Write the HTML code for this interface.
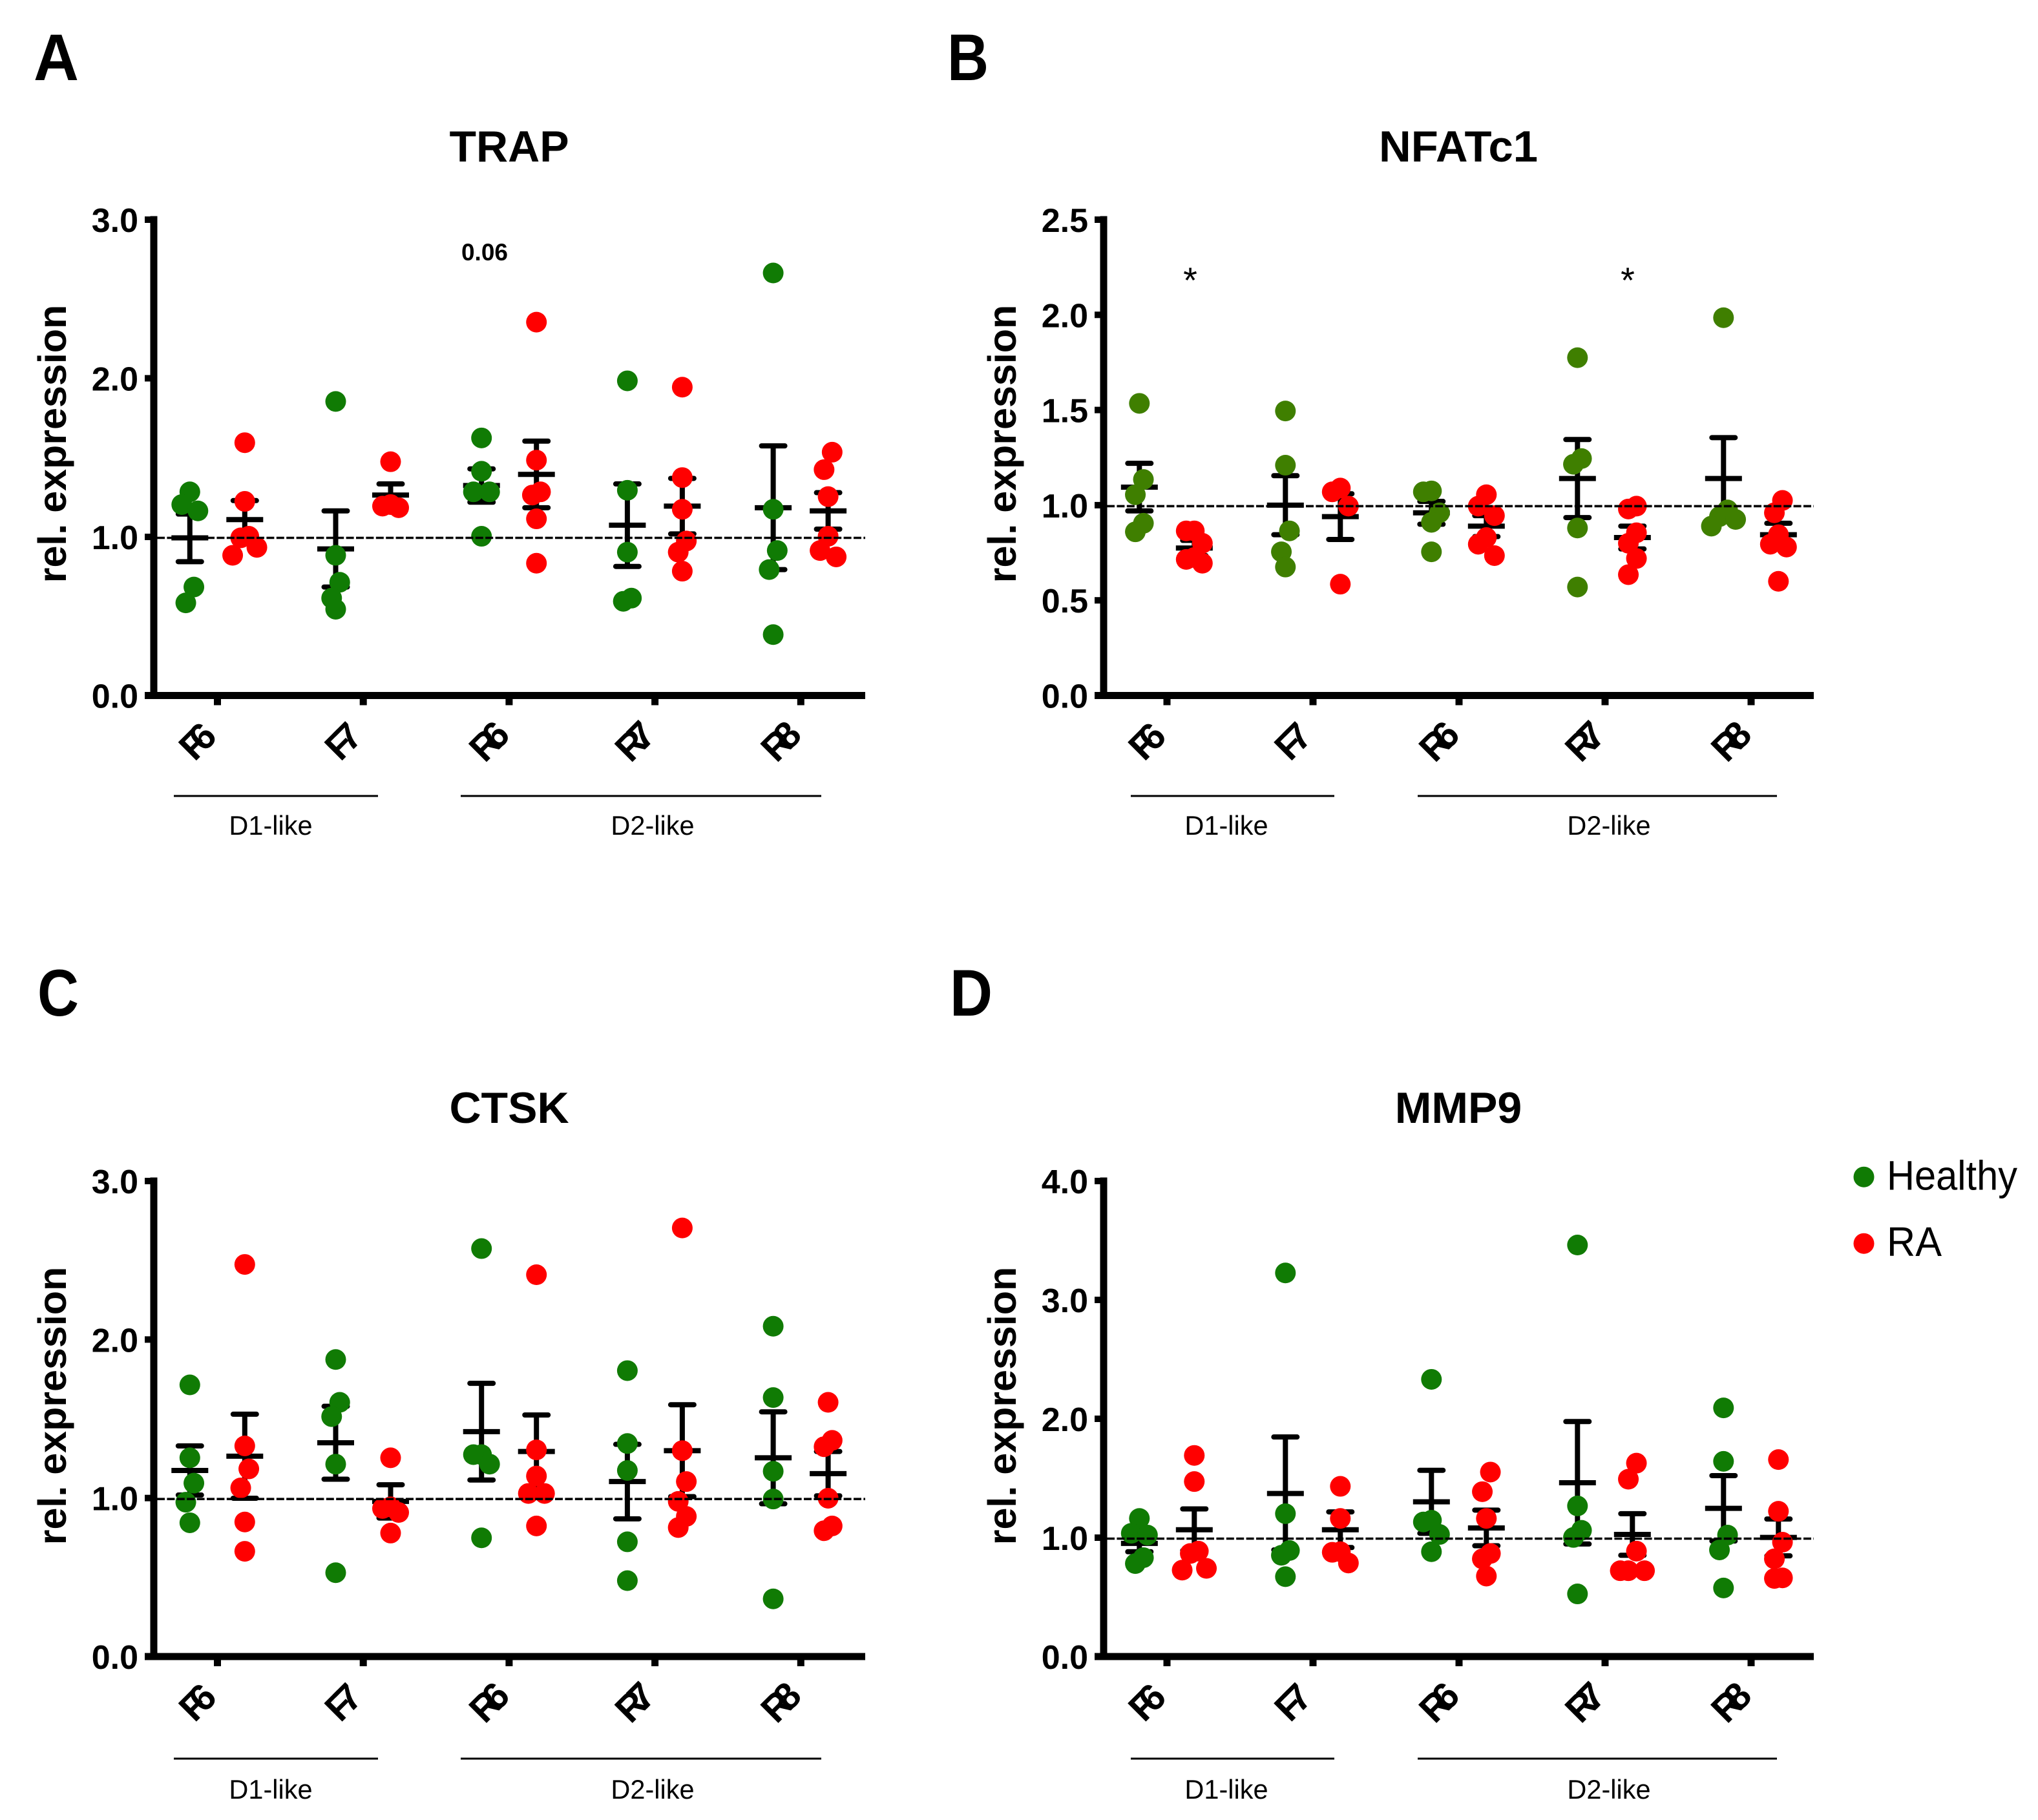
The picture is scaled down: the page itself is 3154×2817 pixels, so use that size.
<!DOCTYPE html>
<html lang="en">
<head>
<meta charset="utf-8">
<title>Relative expression of TRAP, NFATc1, CTSK and MMP9</title>
<style>
html,body{margin:0;padding:0;background:#fff}
svg{display:block}
text{font-family:"Liberation Sans",Arial,sans-serif;fill:#000}
.letter{font-size:102px;font-weight:700}
.title{font-size:68px;font-weight:700;text-anchor:middle}
.legend{font-size:64px}
</style>
</head>
<body>
<svg id="figure" xmlns="http://www.w3.org/2000/svg" width="3154" height="2817" viewBox="0 0 3154 2817">
  <rect width="3154" height="2817" fill="#fff"/>
  <text class="letter" x="52" y="124" textLength="70" lengthAdjust="spacingAndGlyphs">A</text>
  <text class="letter" x="1466" y="124" textLength="64" lengthAdjust="spacingAndGlyphs">B</text>
  <text class="letter" x="58" y="1572" textLength="64" lengthAdjust="spacingAndGlyphs">C</text>
  <text class="letter" x="1470" y="1572" textLength="66" lengthAdjust="spacingAndGlyphs">D</text>
  <text class="title" x="788" y="250">TRAP</text>
  <text class="title" x="2257" y="250" textLength="246" lengthAdjust="spacingAndGlyphs">NFATc1</text>
  <text class="title" x="788" y="1738">CTSK</text>
  <text class="title" x="2257" y="1738">MMP9</text>
  <g id="panels"></g>
  <text x="750" y="403" font-size="37" font-weight="700" text-anchor="middle">0.06</text>
  <text x="1842" y="453" font-size="56" text-anchor="middle">*</text>
  <text x="2519" y="453" font-size="56" text-anchor="middle">*</text>
  <g>
    <circle cx="2884.5" cy="1821.7" r="16" fill="#107b04"/>
    <text class="legend" x="2920" y="1841.7" textLength="202" lengthAdjust="spacingAndGlyphs">Healthy</text>
    <circle cx="2884.5" cy="1924.7" r="16" fill="#ff0000"/>
    <text class="legend" x="2920" y="1944" textLength="85" lengthAdjust="spacingAndGlyphs">RA</text>
  </g>
</svg>
<script>
// ---- shared categories ----
const categories = ['F6', 'F7', 'R6', 'R7', 'R8'];
const referenceLevel = 1;

// ---- TRAP ----
const trapTicks = ['0.0', '1.0', '2.0', '3.0'];
const trapHealthyValues = [
  [1.29, 1.21, 1.17, 0.69, 0.59],
  [1.86, 0.89, 0.72, 0.62, 0.55],
  [1.63, 1.42, 1.29, 1.29, 1.01],
  [1.99, 1.30, 0.91, 0.62, 0.60],
  [2.67, 1.18, 0.92, 0.80, 0.39]
];
const trapRaValues = [
  [1.60, 1.23, 1.01, 1.00, 0.94, 0.89],
  [1.48, 1.21, 1.20, 1.19],
  [2.36, 1.49, 1.29, 1.27, 1.12, 0.84],
  [1.95, 1.38, 1.18, 0.98, 0.91, 0.79],
  [1.54, 1.43, 1.26, 1.01, 0.92, 0.88]
];
const trapHealthyMeans = [1.00, 0.93, 1.33, 1.08, 1.19];
const trapHealthySems = [0.15, 0.24, 0.105, 0.26, 0.39];
const trapRaMeans = [1.115, 1.27, 1.40, 1.20, 1.17];
const trapRaSems = [0.12, 0.07, 0.21, 0.175, 0.115];

// ---- NFATc1 ----
const nfatTicks = ['0.0', '0.5', '1.0', '1.5', '2.0', '2.5'];
const nfatHealthyValues = [
  [1.54, 1.14, 1.06, 0.91, 0.865],
  [1.50, 1.215, 0.87, 0.76, 0.68],
  [1.08, 1.075, 0.965, 0.915, 0.76],
  [1.78, 1.25, 1.22, 0.885, 0.575],
  [1.99, 0.98, 0.945, 0.93, 0.895]
];
const nfatRaValues = [
  [0.87, 0.87, 0.805, 0.73, 0.72, 0.70],
  [1.095, 1.075, 1.00, 0.59],
  [1.06, 1.00, 0.95, 0.835, 0.80, 0.74],
  [1.00, 0.985, 0.86, 0.805, 0.725, 0.64],
  [1.03, 0.965, 0.85, 0.80, 0.785, 0.605]
];
const nfatHealthyMeans = [1.10, 1.005, 0.965, 1.145, 1.145];
const nfatHealthySems = [0.125, 0.155, 0.06, 0.205, 0.215];
const nfatRaMeans = [0.78, 0.945, 0.895, 0.835, 0.85];
const nfatRaSems = [0.04, 0.12, 0.055, 0.06, 0.06];

// ---- CTSK ----
const ctskTicks = ['0.0', '1.0', '2.0', '3.0'];
const ctskHealthyValues = [
  [1.72, 1.26, 1.10, 0.98, 0.85],
  [1.88, 1.61, 1.52, 1.22, 0.535],
  [2.58, 1.28, 1.28, 1.22, 0.755],
  [1.81, 1.35, 1.18, 0.73, 0.485],
  [2.09, 1.64, 1.175, 1.00, 0.37]
];
const ctskRaValues = [
  [2.48, 1.335, 1.19, 1.07, 0.855, 0.67],
  [1.26, 0.95, 0.94, 0.915, 0.785],
  [2.415, 1.31, 1.145, 1.035, 1.035, 0.83],
  [2.71, 1.305, 1.11, 0.985, 0.89, 0.82],
  [1.61, 1.37, 1.33, 1.005, 0.83, 0.80]
];
const ctskHealthyMeans = [1.18, 1.355, 1.425, 1.11, 1.26];
const ctskHealthySems = [0.155, 0.23, 0.305, 0.235, 0.29];
const ctskRaMeans = [1.27, 0.985, 1.30, 1.305, 1.16];
const ctskRaSems = [0.265, 0.105, 0.23, 0.29, 0.14];

// ---- MMP9 ----
const mmpTicks = ['0.0', '1.0', '2.0', '3.0', '4.0'];
const mmpHealthyValues = [
  [1.17, 1.045, 1.03, 0.84, 0.79],
  [3.235, 1.21, 0.90, 0.86, 0.68],
  [2.34, 1.155, 1.14, 1.035, 0.89],
  [3.47, 1.275, 1.07, 1.01, 0.535],
  [2.10, 1.65, 1.03, 0.905, 0.585]
];
const mmpRaValues = [
  [1.70, 1.48, 0.895, 0.875, 0.75, 0.735],
  [1.44, 1.17, 0.89, 0.885, 0.795],
  [1.56, 1.395, 1.17, 0.875, 0.83, 0.685],
  [1.635, 1.50, 0.895, 0.73, 0.73, 0.73],
  [1.665, 1.23, 0.97, 0.83, 0.67, 0.665]
];
const mmpHealthyMeans = [0.96, 1.38, 1.31, 1.47, 1.255];
const mmpHealthySems = [0.07, 0.475, 0.265, 0.515, 0.275];
const mmpRaMeans = [1.075, 1.075, 1.09, 1.035, 1.01];
const mmpRaSems = [0.175, 0.15, 0.15, 0.175, 0.155];

const SVG_NS = 'http://www.w3.org/2000/svg';
const panelsRoot = document.getElementById('panels');

function make(parent, tag, attrs) {
  const node = document.createElementNS(SVG_NS, tag);
  for (const key in attrs) node.setAttribute(key, attrs[key]);
  parent.appendChild(node);
  return node;
}

// Prism-style swarm: neighbouring values share a bin and spread around the group centre.
function swarmOffsets(values, yScale) {
  const slot = 12.5, reach = 34;
  const order = values.map((v, i) => i).sort((a, b) => values[b] - values[a]);
  const offsets = new Array(values.length).fill(0);
  let bin = [];
  const flush = () => {
    const n = bin.length;
    bin.forEach((idx, k) => {
      let s;
      if (n % 2) s = k === 0 ? 0 : (k % 2 ? -1 : 1) * Math.ceil(k / 2);
      else s = (k % 2 ? -1 : 1) * (Math.floor(k / 2) + 0.5);
      offsets[idx] = s * slot;
    });
    bin = [];
  };
  order.forEach(idx => {
    if (bin.length && yScale(values[idx]) - yScale(values[bin[0]]) > reach) flush();
    bin.push(idx);
  });
  flush();
  return offsets;
}

function drawSeries(g, seriesName, centerOf, yScale, values, means, sems, colour) {
  const meanHalf = 28.5, capHalf = 18;
  categories.forEach((cat, i) => {
    const cx = centerOf(i);
    const hi = yScale(means[i] + sems[i]);
    const lo = yScale(means[i] - sems[i]);
    const my = yScale(means[i]);

    const stem = make(g, 'line', {x1: cx, x2: cx, y1: hi, y2: lo, stroke: '#000', 'stroke-width': 8});
    
    

    const capTop = make(g, 'line', {x1: cx - capHalf, x2: cx + capHalf, y1: hi, y2: hi, stroke: '#000', 'stroke-width': 8, 'stroke-linecap': 'round'});
    
    

    const capLow = make(g, 'line', {x1: cx - capHalf, x2: cx + capHalf, y1: lo, y2: lo, stroke: '#000', 'stroke-width': 8, 'stroke-linecap': 'round'});
    
    

    const meanLine = make(g, 'line', {x1: cx - meanHalf, x2: cx + meanHalf, y1: my, y2: my, stroke: '#000', 'stroke-width': 8});
    
    
  });
  categories.forEach((cat, i) => {
    const cx = centerOf(i);
    const offs = swarmOffsets(values[i], yScale);
    values[i].forEach((v, k) => {
      const dot = make(g, 'circle', {cx: cx + offs[k], cy: yScale(v), r: 16, fill: colour});
      
      
    });
  });
}

function drawPanel(cfg) {
  const g = make(panelsRoot, 'g', {});
  
  

  const yMax = parseFloat(cfg.ticks[cfg.ticks.length - 1]);
  const tickScale = v => cfg.base - (v / yMax) * (cfg.base - cfg.top);
  const yScale = v => tickScale(v) + 1.5;
  const xTick = i => cfg.firstTick + i * cfg.step;

  drawSeries(g, 'healthy', i => xTick(i) - 42.7, yScale, cfg.hVals, cfg.hMeans, cfg.hSems, cfg.green);
  drawSeries(g, 'ra', i => xTick(i) + 42.3, yScale, cfg.rVals, cfg.rMeans, cfg.rSems, '#ff0000');

  const refLine = make(g, 'line', {x1: cfg.axisX + 5, x2: cfg.right, y1: yScale(referenceLevel), y2: yScale(referenceLevel), stroke: '#000', 'stroke-width': 3.6, 'stroke-dasharray': '12 3.4'});
  
  

  const yAxis = make(g, 'line', {x1: cfg.axisX, x2: cfg.axisX, y1: cfg.top - 5.5, y2: cfg.base + 5.5, stroke: '#000', 'stroke-width': 11});
  
  

  const xAxis = make(g, 'line', {x1: cfg.axisX - 14, x2: cfg.right, y1: cfg.base, y2: cfg.base, stroke: '#000', 'stroke-width': 11});
  
  

  cfg.ticks.forEach(label => {
    const y = tickScale(parseFloat(label));
    const tick = make(g, 'line', {x1: cfg.axisX - 14, x2: cfg.axisX, y1: y, y2: y, stroke: '#000', 'stroke-width': 10});
    
    

    const text = make(g, 'text', {x: cfg.axisX - 24, y: y + 19, 'font-size': 52, 'font-weight': 700, 'text-anchor': 'end'});
    text.textContent = label;
    
    
  });

  categories.forEach((cat, i) => {
    const x = xTick(i);
    const tick = make(g, 'line', {x1: x, x2: x, y1: cfg.base, y2: cfg.base + 15, stroke: '#000', 'stroke-width': 11});
    
    

    const text = make(g, 'text', {transform: 'translate(' + (x - 22) + ' ' + (cfg.base + 90) + ') rotate(-45)', 'font-size': 58, 'font-weight': 700, 'letter-spacing': '-15', 'text-anchor': 'middle'});
    text.textContent = cat;
    
    
  });

  const yTitle = make(g, 'text', {transform: 'translate(' + (cfg.axisX - 136) + ' ' + cfg.titleY + ') rotate(-90)', 'font-size': 61, 'font-weight': 700, 'text-anchor': 'middle'});
  yTitle.textContent = 'rel. expression';
  
  

  cfg.groups.forEach(grp => {
    const rule = make(g, 'line', {x1: grp.from, x2: grp.to, y1: cfg.groupY, y2: cfg.groupY, stroke: '#000', 'stroke-width': 3});
    
    

    const lab = make(g, 'text', {x: grp.textX, y: cfg.groupTextY, 'font-size': 41.5, 'text-anchor': 'middle'});
    lab.textContent = grp.label;
    
    
  });
}

const leftGroups = [
  {label: 'D1-like', from: 269, to: 585, textX: 419},
  {label: 'D2-like', from: 713, to: 1271, textX: 1010}
];
const rightGroups = [
  {label: 'D1-like', from: 1750, to: 2065, textX: 1898},
  {label: 'D2-like', from: 2194, to: 2750, textX: 2490}
];

drawPanel({name: 'trap', ticks: trapTicks, hVals: trapHealthyValues, rVals: trapRaValues, hMeans: trapHealthyMeans, hSems: trapHealthySems, rMeans: trapRaMeans, rSems: trapRaSems,
  green: '#107b04', axisX: 238, right: 1339, base: 1076.5, top: 340, firstTick: 336.5, step: 225.7, titleY: 687, groups: leftGroups, groupY: 1232, groupTextY: 1292});
drawPanel({name: 'nfatc1', ticks: nfatTicks, hVals: nfatHealthyValues, rVals: nfatRaValues, hMeans: nfatHealthyMeans, hSems: nfatHealthySems, rMeans: nfatRaMeans, rSems: nfatRaSems,
  green: '#3f7f00', axisX: 1708, right: 2807, base: 1076.5, top: 340, firstTick: 1806, step: 226, titleY: 687, groups: rightGroups, groupY: 1232, groupTextY: 1292});
drawPanel({name: 'ctsk', ticks: ctskTicks, hVals: ctskHealthyValues, rVals: ctskRaValues, hMeans: ctskHealthyMeans, hSems: ctskHealthySems, rMeans: ctskRaMeans, rSems: ctskRaSems,
  green: '#107b04', axisX: 238, right: 1339, base: 2564, top: 1828, firstTick: 336.5, step: 225.7, titleY: 2176, groups: leftGroups, groupY: 2722, groupTextY: 2784});
drawPanel({name: 'mmp9', ticks: mmpTicks, hVals: mmpHealthyValues, rVals: mmpRaValues, hMeans: mmpHealthyMeans, hSems: mmpHealthySems, rMeans: mmpRaMeans, rSems: mmpRaSems,
  green: '#107b04', axisX: 1708, right: 2807, base: 2564, top: 1828, firstTick: 1806, step: 226, titleY: 2176, groups: rightGroups, groupY: 2722, groupTextY: 2784});
</script>
</body>
</html>
